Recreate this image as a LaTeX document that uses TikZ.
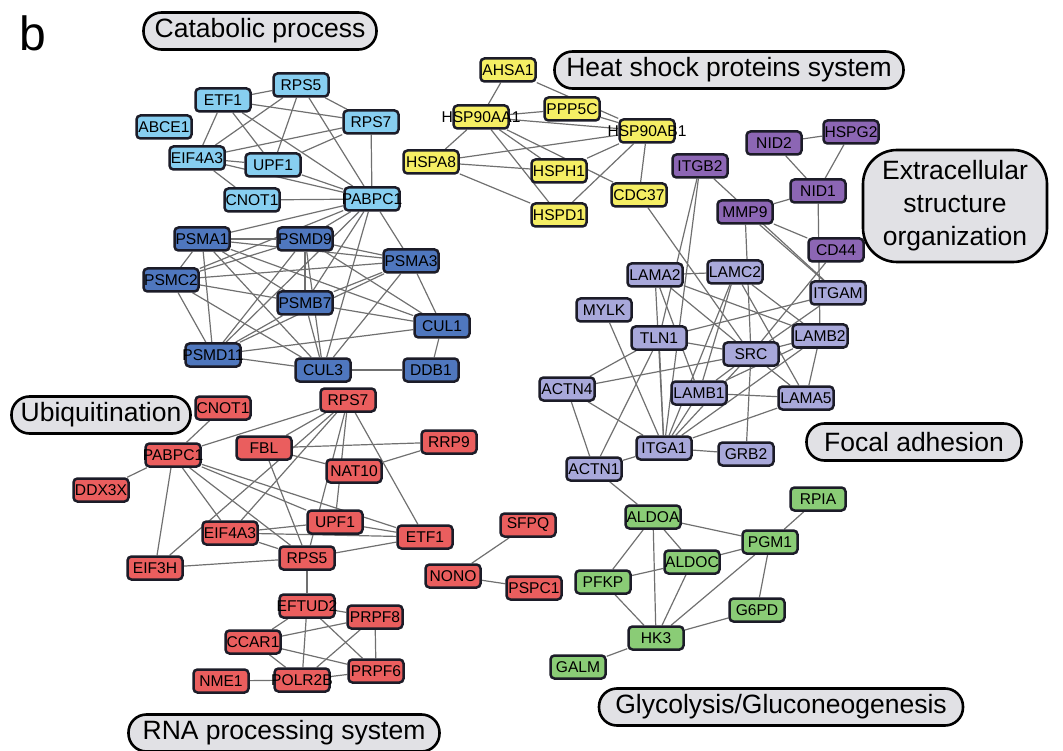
\documentclass[tikz,border=0pt]{standalone}
\usepackage{fontspec}
\setmainfont{Liberation Sans}
\usetikzlibrary{backgrounds}
\definecolor{cLB}{RGB}{135,206,240}
\definecolor{cDB}{RGB}{79,119,190}
\definecolor{cY}{RGB}{245,238,100}
\definecolor{cP}{RGB}{140,102,180}
\definecolor{cL}{RGB}{168,168,218}
\definecolor{cR}{RGB}{234,94,94}
\definecolor{cG}{RGB}{138,204,118}
\definecolor{bord}{RGB}{28,28,40}
\definecolor{edgec}{RGB}{112,112,112}
\definecolor{pillc}{RGB}{225,225,229}
\newcommand\gtx[1]{\makebox[0pt]{#1}}
\tikzset{
 gene/.style={draw=bord, line width=2.5pt, rounded corners=4pt, minimum width=55pt, minimum height=23pt, inner sep=0pt, font=\fontsize{15.6}{16}\selectfont, text=black},
 lb/.style={gene, fill=cLB},
 db/.style={gene, fill=cDB},
 yl/.style={gene, fill=cY},
 pu/.style={gene, fill=cP},
 lv/.style={gene, fill=cL},
 rd/.style={gene, fill=cR},
 gr/.style={gene, fill=cG},
 pill/.style={draw=black, line width=2.6pt, fill=pillc, rounded corners=18pt, minimum height=37pt, inner sep=0pt, font=\fontsize{26.5}{30}\selectfont},
 edge/.style={draw=edgec, line width=1.2pt}
}
\begin{document}
\begin{tikzpicture}[x=1pt,y=-1pt]
\useasboundingbox (0,0) rectangle (1063,751);
\node[font=\fontsize{48}{48}\selectfont] (lb) at (33,33) {b};
% labels
\node[pill, minimum width=233pt] (lcat) at (260,31) {Catabolic process};
\node[pill, minimum width=349pt] (lheat) at (729,70) {Heat shock proteins system};
\node[pill, rounded corners=34pt, minimum width=184pt, minimum height=112pt, align=center, font=\fontsize{26.5}{33}\selectfont] (lext) at (955,206) {Extracellular\\structure\\organization};
\node[pill, minimum width=179pt] (lubi) at (101,415) {Ubiquitination};
\node[pill, minimum width=215pt] (lfoc) at (914,442) {Focal adhesion};
\node[pill, minimum width=364pt] (lgly) at (781,707) {Glycolysis/Gluconeogenesis};
\node[pill, minimum width=311pt] (lrna) at (284,733) {RNA processing system};
% catabolic
\node[lb] (cRPS5) at (301,85) {\gtx{RPS5}};
\node[lb] (cETF1) at (223,100) {\gtx{ETF1}};
\node[lb] (cABCE1) at (164,127) {\gtx{ABCE1}};
\node[lb] (cRPS7) at (371,122) {\gtx{RPS7}};
\node[lb] (cEIF4A3) at (197,158) {\gtx{EIF4A3}};
\node[lb] (cUPF1) at (273,165) {\gtx{UPF1}};
\node[lb] (cCNOT1) at (252,200) {\gtx{CNOT1}};
\node[lb] (cPABPC1) at (372,199) {\gtx{PABPC1}};
% proteasome
\node[db] (PSMA1) at (202,239) {\gtx{PSMA1}};
\node[db] (PSMD9) at (305,239) {\gtx{PSMD9}};
\node[db] (PSMA3) at (411,261) {\gtx{PSMA3}};
\node[db] (PSMC2) at (171,280) {\gtx{PSMC2}};
\node[db] (PSMB7) at (305,303) {\gtx{PSMB7}};
\node[db] (CUL1) at (442,326) {\gtx{CUL1}};
\node[db] (PSMD11) at (213,355) {\gtx{PSMD11}};
\node[db] (CUL3) at (323,370) {\gtx{CUL3}};
\node[db] (DDB1) at (431,370) {\gtx{DDB1}};
% heat shock
\node[yl] (AHSA1) at (508,70) {\gtx{AHSA1}};
\node[yl] (PPP5C) at (572,109) {\gtx{PPP5C}};
\node[yl] (HSP90AA1) at (481,117) {\gtx{HSP90AA1}};
\node[yl] (HSP90AB1) at (647,131) {\gtx{HSP90AB1}};
\node[yl] (HSPA8) at (431,162) {\gtx{HSPA8}};
\node[yl] (HSPH1) at (559,171) {\gtx{HSPH1}};
\node[yl] (CDC37) at (639,195) {\gtx{CDC37}};
\node[yl] (HSPD1) at (559,215) {\gtx{HSPD1}};
% extracellular
\node[pu] (NID2) at (774,143) {\gtx{NID2}};
\node[pu] (HSPG2) at (851,132) {\gtx{HSPG2}};
\node[pu] (ITGB2) at (700,166) {\gtx{ITGB2}};
\node[pu] (NID1) at (818,191) {\gtx{NID1}};
\node[pu] (MMP9) at (745,212) {\gtx{MMP9}};
\node[pu] (CD44) at (836,250) {\gtx{CD44}};
% focal adhesion
\node[lv] (LAMA2) at (655,275) {\gtx{LAMA2}};
\node[lv] (LAMC2) at (735,272) {\gtx{LAMC2}};
\node[lv] (ITGAM) at (838,293) {\gtx{ITGAM}};
\node[lv] (MYLK) at (604,310) {\gtx{MYLK}};
\node[lv] (TLN1) at (659,338) {\gtx{TLN1}};
\node[lv] (LAMB2) at (820,336) {\gtx{LAMB2}};
\node[lv] (SRC) at (751,354) {\gtx{SRC}};
\node[lv] (ACTN4) at (567,389) {\gtx{ACTN4}};
\node[lv] (LAMB1) at (699,393) {\gtx{LAMB1}};
\node[lv] (LAMA5) at (806,398) {\gtx{LAMA5}};
\node[lv] (ITGA1) at (664,448) {\gtx{ITGA1}};
\node[lv] (GRB2) at (746,454) {\gtx{GRB2}};
\node[lv] (ACTN1) at (594,469) {\gtx{ACTN1}};
% ubiquitination / RNA
\node[rd] (uCNOT1) at (223,408) {\gtx{CNOT1}};
\node[rd] (uRPS7) at (348,400) {\gtx{RPS7}};
\node[rd] (uPABPC1) at (173,455) {\gtx{PABPC1}};
\node[rd] (FBL) at (264,448) {\gtx{FBL}};
\node[rd] (RRP9) at (449,442) {\gtx{RRP9}};
\node[rd] (NAT10) at (354,471) {\gtx{NAT10}};
\node[rd] (DDX3X) at (101,490) {\gtx{DDX3X}};
\node[rd] (uUPF1) at (335,522) {\gtx{UPF1}};
\node[rd] (uEIF4A3) at (230,533) {\gtx{EIF4A3}};
\node[rd] (uETF1) at (425,537) {\gtx{ETF1}};
\node[rd] (uRPS5) at (307,558) {\gtx{RPS5}};
\node[rd] (EIF3H) at (155,568) {\gtx{EIF3H}};
\node[rd] (SFPQ) at (528,525) {\gtx{SFPQ}};
\node[rd] (NONO) at (453,576) {\gtx{NONO}};
\node[rd] (PSPC1) at (534,588) {\gtx{PSPC1}};
\node[rd] (EFTUD2) at (307,606) {\gtx{EFTUD2}};
\node[rd] (PRPF8) at (375,617) {\gtx{PRPF8}};
\node[rd] (CCAR1) at (253,642) {\gtx{CCAR1}};
\node[rd] (PRPF6) at (376,671) {\gtx{PRPF6}};
\node[rd] (NME1) at (221,681) {\gtx{NME1}};
\node[rd] (POLR2B) at (302,680) {\gtx{POLR2B}};
% glycolysis
\node[gr] (RPIA) at (818,499) {\gtx{RPIA}};
\node[gr] (ALDOA) at (653,517) {\gtx{ALDOA}};
\node[gr] (PGM1) at (770,542) {\gtx{PGM1}};
\node[gr] (ALDOC) at (692,562) {\gtx{ALDOC}};
\node[gr] (PFKP) at (603,582) {\gtx{PFKP}};
\node[gr] (G6PD) at (757,610) {\gtx{G6PD}};
\node[gr] (HK3) at (656,638) {\gtx{HK3}};
\node[gr] (GALM) at (578,667) {\gtx{GALM}};
\begin{pgfonlayer}{background}
\foreach \a/\b in {
 cRPS5/cETF1, cRPS5/cRPS7, cETF1/cRPS7, cETF1/cEIF4A3, cETF1/cUPF1, cETF1/cPABPC1,
 cRPS5/cEIF4A3, cRPS5/cUPF1, cRPS5/cPABPC1, cRPS7/cEIF4A3, cRPS7/cUPF1, cRPS7/cPABPC1,
 cEIF4A3/cUPF1, cEIF4A3/cPABPC1, cUPF1/cPABPC1, cEIF4A3/cCNOT1, cCNOT1/cPABPC1,
 cPABPC1/PSMA1, cPABPC1/PSMD9, cPABPC1/PSMC2, cPABPC1/PSMB7, cPABPC1/PSMD11, cPABPC1/PSMA3, cPABPC1/CUL3,
 PSMA1/PSMD9, PSMA1/PSMA3, PSMA1/PSMC2, PSMA1/PSMD11, PSMA1/CUL3, PSMA1/CUL1, PSMA1/PSMB7,
 PSMD9/PSMA3, PSMD9/PSMC2, PSMD9/PSMB7, PSMD9/CUL3, PSMD9/PSMD11, PSMD9/CUL1,
 PSMC2/PSMA3, PSMC2/PSMB7, PSMC2/PSMD11, PSMC2/CUL3,
 PSMB7/PSMA3, PSMB7/CUL1, PSMB7/PSMD11, PSMB7/CUL3,
 PSMA3/CUL1, PSMA3/CUL3, PSMA3/PSMD11, CUL1/PSMD11, CUL1/DDB1, CUL3/DDB1, CUL3/PSMD11,
 AHSA1/HSP90AA1, AHSA1/HSP90AB1, HSP90AA1/PPP5C, HSP90AA1/HSP90AB1, PPP5C/HSP90AB1,
 HSP90AA1/HSPA8, HSP90AA1/HSPH1, HSP90AA1/HSPD1, HSP90AA1/CDC37, HSPA8/HSP90AB1,
 HSPA8/HSPH1, HSPA8/HSPD1, HSPH1/HSP90AB1, HSPD1/HSP90AB1, HSP90AB1/CDC37,
 CDC37/SRC, ITGB2/TLN1, ITGB2/ITGA1, ITGB2/ITGAM, MMP9/ITGAM, MMP9/NID1, MMP9/CD44, MMP9/SRC,
 NID2/NID1, NID2/HSPG2, HSPG2/NID1, NID1/LAMB2, CD44/SRC,
 LAMA2/LAMC2, LAMA2/ITGA1, LAMA2/LAMB1, LAMA2/SRC, LAMA2/LAMB2,
 LAMC2/LAMB1, LAMC2/ITGA1, LAMC2/LAMA5, LAMC2/LAMB2,
 ITGAM/TLN1, ITGAM/SRC, LAMB2/LAMA5, LAMB2/SRC, LAMB2/LAMB1, LAMB2/ITGA1,
 SRC/TLN1, SRC/ACTN4, SRC/LAMB1, SRC/ITGA1, SRC/GRB2, SRC/LAMA5,
 MYLK/ITGA1, TLN1/ACTN4, TLN1/ACTN1, TLN1/ITGA1, ACTN4/ACTN1, ACTN4/ITGA1, ACTN1/ITGA1,
 ITGA1/GRB2, LAMB1/LAMA5, LAMB1/ITGA1, LAMA5/ITGA1, ACTN1/ALDOA,
 uCNOT1/uPABPC1, uPABPC1/uRPS7, uPABPC1/DDX3X, uPABPC1/EIF3H, uPABPC1/uEIF4A3, uPABPC1/uRPS5,
 uPABPC1/uUPF1, uPABPC1/uETF1, uRPS7/FBL, uRPS7/uEIF4A3, EIF3H/uRPS7, uRPS7/uUPF1, uRPS7/uRPS5,
 uRPS7/uETF1, FBL/RRP9, FBL/NAT10, FBL/uRPS5, NAT10/RRP9, uUPF1/uEIF4A3, uUPF1/uETF1,
 uEIF4A3/uETF1, uEIF4A3/uRPS5, EIF3H/uRPS5, uRPS5/uETF1, uRPS5/EFTUD2,
 NONO/SFPQ, NONO/PSPC1,
 EFTUD2/PRPF8, EFTUD2/CCAR1, EFTUD2/POLR2B, EFTUD2/PRPF6, CCAR1/PRPF8, CCAR1/PRPF6,
 CCAR1/POLR2B, PRPF8/POLR2B, PRPF8/PRPF6, POLR2B/PRPF6, NME1/POLR2B,
 ALDOA/PGM1, ALDOA/ALDOC, ALDOA/PFKP, ALDOA/HK3, ALDOC/PGM1, ALDOC/PFKP, ALDOC/HK3,
 PGM1/HK3, PGM1/G6PD, PGM1/RPIA, PFKP/HK3, G6PD/HK3, HK3/GALM}
 \draw[edge] (\a) -- (\b);
\end{pgfonlayer}
\end{tikzpicture}
\end{document}
